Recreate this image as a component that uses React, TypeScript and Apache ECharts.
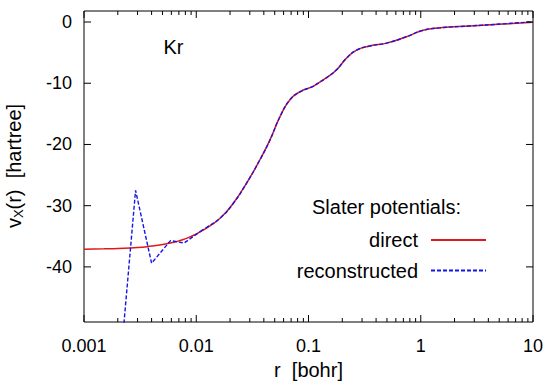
import { useEffect, useRef } from 'react';
import * as echarts from 'echarts';

// Slater exchange potential of Kr, v_X(r) in hartree, r in bohr
const rDirect = [
  0.001, 0.0015, 0.002, 0.003, 0.004, 0.005, 0.006, 0.007, 0.0088, 0.0115,
  0.0163, 0.0214, 0.0281, 0.0369, 0.0453, 0.0556, 0.0683, 0.0838, 0.11, 0.126,
  0.145, 0.178, 0.218, 0.268, 0.352, 0.496, 0.746, 1.05, 1.48, 2.73, 5.42, 10,
];
const vDirect = [
  -37.1, -37.05, -37.0, -36.85, -36.6, -36.35, -36.05, -35.75, -35.1, -34.0,
  -32.05, -29.6, -26.3, -22.5, -19.3, -15.5, -12.7, -11.4, -10.5, -9.8,
  -9.1, -7.8, -5.9, -4.6, -3.9, -3.45, -2.4, -1.35, -0.95, -0.65, -0.33, -0.05,
];

// reconstructed potential: oscillating near the nucleus, then smooth
const rReconInner = [0.00206, 0.00288, 0.004, 0.0059, 0.0078, 0.0109];
const vReconInner = [-58, -27.5, -39.4, -35.7, -36.1, -34.2];
const rReconOuter = [
  0.0109, 0.0125, 0.0163, 0.0214, 0.0281, 0.0369, 0.0453, 0.0556, 0.0683, 0.0838,
  0.11, 0.126, 0.145, 0.178, 0.218, 0.268, 0.352, 0.496, 0.746, 1.05, 1.48, 2.73,
  5.42, 10,
];
const vReconOuter = [
  -34.2, -33.5, -32.05, -29.6, -26.3, -22.5, -19.3, -15.5, -12.7, -11.4,
  -10.5, -9.8, -9.1, -7.8, -5.9, -4.6, -3.9, -3.45, -2.4, -1.35, -0.95, -0.65,
  -0.3, 0.05,
];

const xMajorTicks = [0.001, 0.01, 0.1, 1, 10];
const xTickLabels = ['0.001', '0.01', '0.1', '1', '10'];
const yTicks = [-40, -30, -20, -10, 0];
const yTickLabels = ['-40', '-30', '-20', '-10', '0'];

const xMinorTicks = xMajorTicks
  .slice(0, -1)
  .flatMap((d) => [2, 3, 4, 5, 6, 7, 8, 9].map((k) => +(k * d).toPrecision(3)));

const X_MIN = 0.001;
const X_MAX = 10;
const Y_MIN = -49;
const Y_MAX = 1.8;

const FONT = '"Liberation Sans", Arial, Helvetica, sans-serif';
const RED = '#e01818';
const BLUE = '#1515e6';
const MAJOR_LEN = 7;
const MINOR_LEN = 4;

const zip = (xs: number[], ys: number[]) => xs.map((x, i) => [x, ys[i]]);

const xLabel = (v: number) => {
  const i = xMajorTicks.findIndex((t) => Math.abs(Math.log10(t) - Math.log10(v)) < 1e-6);
  return i >= 0 ? xTickLabels[i] : '';
};
const yLabel = (v: number) => {
  const i = yTicks.findIndex((t) => Math.abs(t - v) < 1e-6);
  return i >= 0 ? yTickLabels[i] : '';
};

const tickStyle = { stroke: '#000', lineWidth: 1 };

// x ticks mirrored on the bottom and top edges; dimension 1 flags major ticks
const xTickData = [
  ...xMajorTicks.map((v) => [v, 1]),
  ...xMinorTicks.map((v) => [v, 0]),
];
// y ticks mirrored on the left and right edges
const yTickData = yTicks.map((v) => [X_MIN, v]);

export default function App() {
  const ref = useRef<HTMLDivElement>(null);

  useEffect(() => {
    if (!ref.current) return;
    const chart = echarts.init(ref.current, undefined, { renderer: 'svg' });

    const legendBase = () => ({
      orient: 'vertical',
      align: 'right',
      right: 61,
      itemWidth: 55,
      itemHeight: 20,
      selectedMode: false,
      padding: 0,
      itemStyle: { opacity: 0 },
      textStyle: { fontSize: 20, fontFamily: FONT, color: '#000', padding: [0, 8, 0, 0] },
    });

    chart.setOption({
      animation: false,
      backgroundColor: '#fff',
      textStyle: { fontFamily: FONT },
      grid: {
        left: 84,
        top: 11,
        right: 15,
        bottom: 64,
        show: true,
        borderColor: '#000',
        borderWidth: 1,
        backgroundColor: 'transparent',
        outerBoundsMode: 'none',
      },
      xAxis: {
        type: 'log',
        logBase: 10,
        min: X_MIN,
        max: X_MAX,
        axisLine: { show: false, onZero: false },
        axisTick: { show: false },
        splitLine: { show: false },
        minorTick: { show: false },
        axisLabel: {
          show: true,
          formatter: xLabel,
          fontSize: 18,
          fontFamily: FONT,
          color: '#000',
          margin: 15,
        },
        name: 'r  [bohr]',
        nameLocation: 'middle',
        nameGap: 37,
        nameTextStyle: { fontSize: 20, fontFamily: FONT, color: '#000' },
      },
      yAxis: {
        type: 'value',
        min: Y_MIN,
        max: Y_MAX,
        axisLine: { show: false, onZero: false },
        axisTick: { show: false },
        splitLine: { show: false },
        axisLabel: {
          show: true,
          formatter: yLabel,
          fontSize: 18,
          fontFamily: FONT,
          color: '#000',
          margin: 12,
        },
      },
      legend: [
        { ...legendBase(), data: ['direct'], top: 230 },
        { ...legendBase(), data: ['reconstructed'], top: 260.5 },
      ],
      graphic: [
        {
          type: 'text',
          x: 13.5,
          y: 166,
          rotation: Math.PI / 2,
          style: {
            text: '{a|v}{s|X}{a|(r)  [hartree]}',
            fontSize: 20,
            fontFamily: FONT,
            fill: '#000',
            align: 'center',
            verticalAlign: 'middle',
            rich: {
              a: { fontSize: 20, fontFamily: FONT, fill: '#000' },
              s: { fontSize: 13, fontFamily: FONT, fill: '#000', padding: [9, 0, 0, 0] },
            },
          },
        },
        {
          type: 'text',
          x: 173.5,
          y: 46.5,
          style: {
            text: 'Kr',
            fontSize: 20,
            fontFamily: FONT,
            fill: '#000',
            align: 'center',
            verticalAlign: 'middle',
          },
        },
        {
          type: 'text',
          x: 386.5,
          y: 206.5,
          style: {
            text: 'Slater potentials:',
            fontSize: 20,
            fontFamily: FONT,
            fill: '#000',
            align: 'center',
            verticalAlign: 'middle',
          },
        },
      ],
      series: [
        {
          type: 'custom',
          name: 'xticks',
          silent: true,
          clip: false,
          data: xTickData,
          renderItem: (params: any, api: any) => {
            const cs = params.coordSys;
            const p = api.coord([api.value(0), Y_MIN]);
            const len = api.value(1) === 1 ? MAJOR_LEN : MINOR_LEN;
            const bottom = cs.y + cs.height;
            return {
              type: 'group',
              children: [
                { type: 'line', shape: { x1: p[0], y1: bottom, x2: p[0], y2: bottom - len }, style: tickStyle },
                { type: 'line', shape: { x1: p[0], y1: cs.y, x2: p[0], y2: cs.y + len }, style: tickStyle },
              ],
            };
          },
          z: 5,
        },
        {
          type: 'custom',
          name: 'yticks',
          silent: true,
          clip: false,
          data: yTickData,
          renderItem: (params: any, api: any) => {
            const cs = params.coordSys;
            const p = api.coord([X_MIN, api.value(1)]);
            const right = cs.x + cs.width;
            return {
              type: 'group',
              children: [
                { type: 'line', shape: { x1: cs.x, y1: p[1], x2: cs.x + MAJOR_LEN, y2: p[1] }, style: tickStyle },
                { type: 'line', shape: { x1: right, y1: p[1], x2: right - MAJOR_LEN, y2: p[1] }, style: tickStyle },
              ],
            };
          },
          z: 5,
        },
        {
          type: 'line',
          name: 'direct',
          data: zip(rDirect, vDirect),
          symbol: 'none',
          smooth: 0.5,
          lineStyle: { color: RED, width: 1.5 },
          itemStyle: { color: RED },
          z: 2,
        },
        {
          type: 'line',
          name: 'reconstructed',
          data: zip(rReconInner, vReconInner),
          symbol: 'none',
          smooth: false,
          lineStyle: { color: BLUE, width: 1.4, type: [4, 2] },
          itemStyle: { color: BLUE },
          z: 3,
        },
        {
          type: 'line',
          name: 'reconstructed',
          data: zip(rReconOuter, vReconOuter),
          symbol: 'none',
          smooth: 0.5,
          lineStyle: { color: BLUE, width: 1.4, type: [4, 2] },
          itemStyle: { color: BLUE },
          z: 3,
        },
      ],
    });

    return () => chart.dispose();
  }, []);

  return (
    <div
      ref={ref}
      style={{ position: 'fixed', left: 0, top: 0, width: 548, height: 386, background: '#fff' }}
    />
  );
}
